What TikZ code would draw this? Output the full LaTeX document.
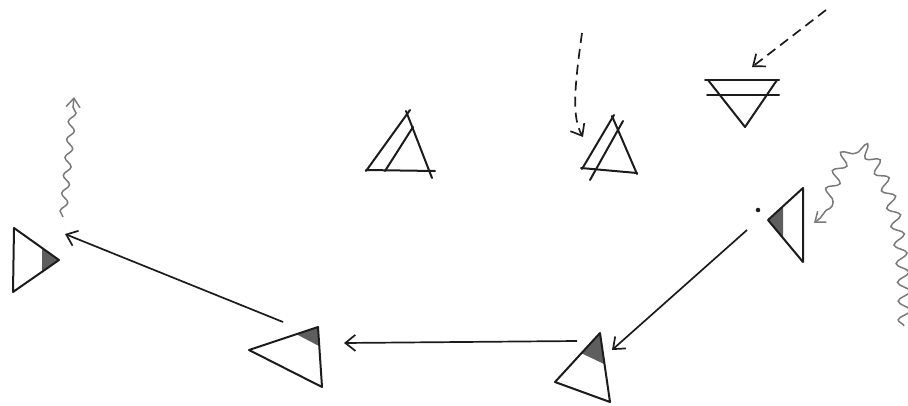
\documentclass[tikz,border=0pt]{standalone}
\usetikzlibrary{arrows.meta,decorations.pathmorphing}
\definecolor{tinta}{HTML}{1C1C1C}
\definecolor{sombra}{HTML}{5E5E5E}
\definecolor{lapiz}{HTML}{7A7A7A}

\begin{document}
\begin{tikzpicture}[
  x=1pt, y=-1pt,
  tri/.style={draw=tinta, line width=2pt, line join=round, line cap=round},
  gris/.style={fill=sombra, draw=none},
  flecha/.style={-{Straight Barb[length=10pt,width=16pt]}, line width=1.7pt, tinta},
  rayas/.style={flecha, dash pattern=on 10pt off 6pt},
  onda/.style={-{Straight Barb[length=9pt,width=14pt]}, line width=1.5pt, lapiz, decorate},
  punto/.style={circle, fill=tinta, inner sep=1.6pt}
]
\useasboundingbox (0,0) rectangle (908,405);

% puntos de las flechas
\coordinate (izq) at (65,234);
\coordinate (izqsal) at (74,97);
\coordinate (izqent) at (63,217);
\coordinate (medio) at (344,343);
\coordinate (mediosal) at (283,322);
\coordinate (abajo) at (612,350);
\coordinate (abajosal) at (577,341);
\coordinate (der) at (814,223);
\coordinate (dersal) at (747,230);
\coordinate (ola) at (904,326);
\coordinate (cima) at (860,150);
\coordinate (alto) at (583,137);
\coordinate (altoent) at (582,33);
\coordinate (agua) at (752,67);
\coordinate (aguaent) at (826,10);

% triangulo izquierdo
\fill[gris] (42,248) -- (59,260) -- (42,272) -- cycle;
\draw[tri] (14,228) -- (59,260) -- (13,292) -- cycle;

% triangulo del medio
\fill[gris] (296,334) -- (318,327) -- (319,346) -- cycle;
\draw[tri] (249,350) -- (318,327) -- (322,387) -- cycle;

% triangulo de abajo
\fill[gris] (600,333) -- (581,353) -- (604,364) -- cycle;
\draw[tri] (600,333) -- (555,382) -- (610,402) -- cycle;

% triangulo derecho
\fill[gris] (783,207) -- (768,220) -- (783,238) -- cycle;
\draw[tri] (803,188) -- (768,220) -- (803,262) -- cycle;
\node[punto] (ojo) at (758,210) {};

% triangulos de arriba
\draw[tri] (366,171) -- (410,110);
\draw[tri] (406,111) -- (432,178);
\draw[tri] (366,170) -- (435,171);
\draw[tri] (385,171) -- (413,127);

\draw[tri] (582,169) -- (614,115);
\draw[tri] (612,116) -- (637,174);
\draw[tri] (581,168) -- (637,173);
\draw[tri] (590,180) -- (623,121);

% triangulo invertido
\draw[tri] (705,80) -- (779,80);
\draw[tri] (707,95) -- (779,95);
\draw[tri] (708,80) -- (745,127) -- (777,80);

% flechas
\draw[flecha] (mediosal) -- (izq);
\draw[flecha] (abajosal) -- (medio);
\draw[flecha] (dersal) -- (abajo);
\draw[rayas] (altoent) .. controls (574,90) and (572,118) .. (alto);
\draw[rayas] (aguaent) -- (agua);

% ondas
\draw[onda, decoration={snake, amplitude=3.5pt, segment length=18pt, post length=6pt}] (izqent) -- (izqsal);
\draw[onda, decoration={snake, amplitude=6pt, segment length=19pt, post length=8pt}]
  (ola) .. controls (906,235) and (885,168) .. (cima)
  .. controls (842,145) and (836,212) .. (der);
\end{tikzpicture}
\end{document}
